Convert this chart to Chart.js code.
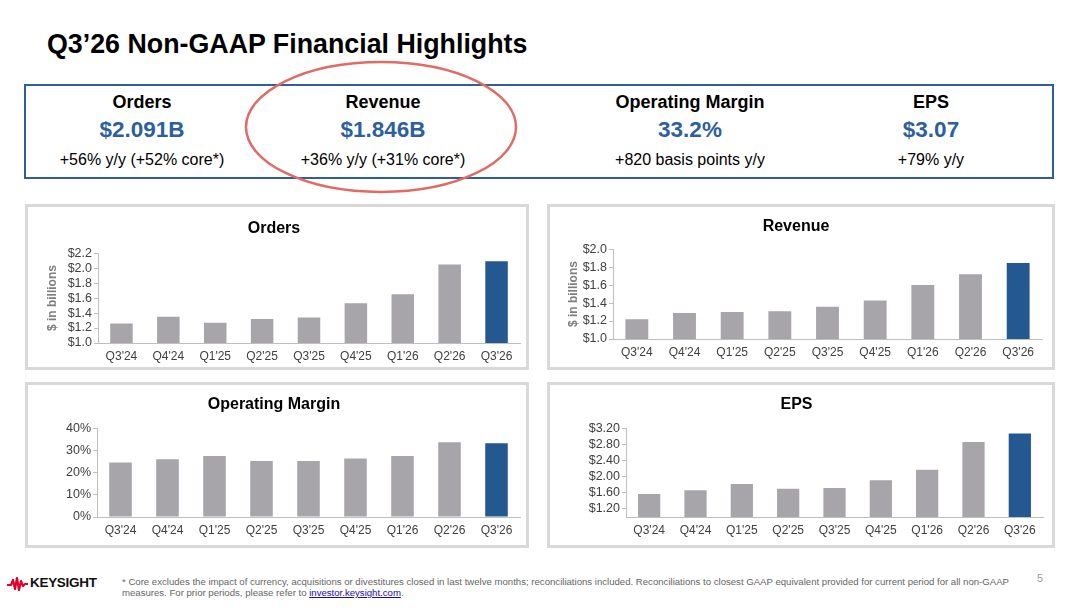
<!DOCTYPE html>
<html>
<head>
<meta charset="utf-8">
<script src="https://cdn.jsdelivr.net/npm/chart.js@4"></script>
<style>
  body { margin: 0; width: 1080px; height: 608px; background: #fff; position: relative; overflow: hidden;
         font-family: "Liberation Sans", Arial, sans-serif; }
  .abs { position: absolute; }
  .title { left: 47px; top: 29px; font-size: 26.8px; line-height: 31px; font-weight: bold; color: #000; white-space: nowrap; }
  .box { left: 24px; top: 84px; width: 1026px; height: 91px; border: 2px solid #2e5e9b; }
  .col { width: 280px; margin-left: -140px; text-align: center; white-space: nowrap; }
  .head { top: 92px; font-size: 18px; line-height: 21px; font-weight: bold; color: #000; }
  .val { top: 117px; font-size: 22.5px; line-height: 26px; font-weight: bold; color: #2d5f9e; }
  .sub { top: 150px; font-size: 16px; line-height: 19px; color: #000; }
  .panel { border: 3px solid #d9d9d9; box-sizing: border-box; }
  .panel div { position: relative; width: 100%; height: 100%; }
  .foot { left: 122px; top: 576px; font-size: 9.6px; line-height: 11px; color: #666; width: 940px; white-space: nowrap; }
  .foot a { color: #1a0dab; }
  .pnum { left: 1037px; top: 572px; font-size: 11px; color: #999; }
  .logo { left: 30px; top: 575px; font-size: 13.5px; font-weight: bold; color: #111; letter-spacing: -0.3px; }
</style>
</head>
<body>
<div class="abs title">Q3’26 Non-GAAP Financial Highlights</div>
<div class="abs box"></div>

<div class="abs col head" style="left:142px">Orders</div>
<div class="abs col val" style="left:142px">$2.091B</div>
<div class="abs col sub" style="left:142px">+56% y/y (+52% core*)</div>

<div class="abs col head" style="left:383px">Revenue</div>
<div class="abs col val" style="left:383px">$1.846B</div>
<div class="abs col sub" style="left:383px">+36% y/y (+31% core*)</div>

<div class="abs col head" style="left:690px">Operating Margin</div>
<div class="abs col val" style="left:690px">33.2%</div>
<div class="abs col sub" style="left:690px">+820 basis points y/y</div>

<div class="abs col head" style="left:931px">EPS</div>
<div class="abs col val" style="left:931px">$3.07</div>
<div class="abs col sub" style="left:931px">+79% y/y</div>

<svg class="abs" style="left:0;top:0" width="1080" height="220">
  <ellipse cx="381" cy="127" rx="135" ry="65" fill="none" stroke="#e06b63" stroke-width="2.5"/>
</svg>

<div class="abs panel" style="left:25px;top:204px;width:504px;height:166px"><div><canvas id="ordersChart"></canvas></div></div>
<div class="abs panel" style="left:547px;top:204px;width:508px;height:166px"><div><canvas id="revenueChart"></canvas></div></div>
<div class="abs panel" style="left:25px;top:382px;width:504px;height:166px"><div><canvas id="marginChart"></canvas></div></div>
<div class="abs panel" style="left:547px;top:382px;width:508px;height:166px"><div><canvas id="epsChart"></canvas></div></div>

<svg class="abs" style="left:7px;top:576px" width="22" height="16">
  <polyline points="0,9 4,9 6,4 8,13 10,2 12,14 14,5 16,10 18,8 21,8" fill="none" stroke="#e4002b" stroke-width="2.2" stroke-linejoin="round"/>
</svg>
<div class="abs logo">KEYSIGHT</div>
<div class="abs foot">* Core excludes the impact of currency, acquisitions or divestitures closed in last twelve months; reconciliations included. Reconciliations to closest GAAP equivalent provided for current period for all non-GAAP<br>measures. For prior periods, please refer to <a href="#">investor.keysight.com</a>.</div>
<div class="abs pnum">5</div>

<script>
const quarters = ["Q3'24", "Q4'24", "Q1'25", "Q2'25", "Q3'25", "Q4'25", "Q1'26", "Q2'26", "Q3'26"];
const ordersValues = [1.26, 1.35, 1.27, 1.32, 1.34, 1.53, 1.65, 2.05, 2.091];
const revenueValues = [1.22, 1.29, 1.30, 1.31, 1.36, 1.43, 1.60, 1.72, 1.846];
const marginValues = [24.5, 26.0, 27.5, 25.2, 25.2, 26.4, 27.5, 33.7, 33.2];
const epsValues = [1.57, 1.66, 1.82, 1.70, 1.72, 1.91, 2.17, 2.86, 3.07];
const epsTicks = [1.2, 1.6, 2.0, 2.4, 2.8, 3.2];

const gray = "#a7a5aa";
const blue = "#245891";
const axisGray = "#bfbfbf";

Chart.defaults.font.family = "'Liberation Sans', Arial, sans-serif";
Chart.defaults.color = "#404040";
Chart.defaults.animation = false;

// one bar chart per panel; layout numbers tuned to the slide
function makeBarChart(id, title, values, cfg) {
  const yScale = {
    min: cfg.min,
    max: cfg.max,
    border: { display: true, color: axisGray },
    grid: { drawOnChartArea: false, drawTicks: true, tickLength: 4, color: axisGray },
    ticks: {
      stepSize: cfg.step,
      autoSkip: false,
      padding: 2,
      font: { size: 12.5 },
      color: "#404040",
      callback: cfg.format,
    },
    afterFit: (s) => { s.width = cfg.yWidth; },
  };
  if (cfg.ticks) {
    yScale.afterBuildTicks = (s) => { s.ticks = cfg.ticks.map((v) => ({ value: v })); };
  }
  if (cfg.yTitle) {
    yScale.title = {
      display: true,
      text: cfg.yTitle,
      color: "#7f7f7f",
      font: { size: 12, weight: "bold" },
      padding: { top: cfg.yTitlePad, bottom: 0 },
    };
  }
  new Chart(document.getElementById(id), {
    type: "bar",
    data: {
      labels: quarters,
      datasets: [
        {
          data: values,
          backgroundColor: quarters.map((q, i) => (i === quarters.length - 1 ? blue : gray)),
          barPercentage: 0.48,
          categoryPercentage: 1,
        },
      ],
    },
    options: {
      responsive: true,
      maintainAspectRatio: false,
      layout: { padding: { left: 0, right: cfg.padRight, top: 0, bottom: 0 } },
      plugins: {
        legend: { display: false },
        tooltip: { enabled: false },
        title: {
          display: true,
          text: title,
          color: "#000",
          font: { size: 16, weight: "bold", lineHeight: 1.2 },
          padding: { top: cfg.titleTop, bottom: cfg.titleBottom },
        },
      },
      scales: {
        x: {
          border: { display: true, color: axisGray },
          grid: { display: false, drawTicks: false },
          ticks: { padding: 6, font: { size: 12 }, color: "#404040", maxRotation: 0, autoSkip: false },
          afterFit: (s) => { s.height = cfg.xHeight; },
        },
        y: yScale,
      },
    },
  });
}

makeBarChart("ordersChart", "Orders", ordersValues, {
  min: 1.0, max: 2.2, step: 0.2,
  format: (v) => "$" + v.toFixed(1),
  yWidth: 70, padRight: 6, titleTop: 12, titleBottom: 15, xHeight: 24,
  yTitle: "$ in billions", yTitlePad: 17,
});

makeBarChart("revenueChart", "Revenue", revenueValues, {
  min: 1.0, max: 2.0, step: 0.2,
  format: (v) => "$" + v.toFixed(1),
  yWidth: 63, padRight: 10, titleTop: 10, titleBottom: 13, xHeight: 28,
  yTitle: "$ in billions", yTitlePad: 16,
});

makeBarChart("marginChart", "Operating Margin", marginValues, {
  min: 0, max: 40, step: 10,
  format: (v) => v + "%",
  yWidth: 69, padRight: 6, titleTop: 10, titleBottom: 14, xHeight: 28,
});

makeBarChart("epsChart", "EPS", epsValues, {
  min: 1.0, max: 3.2, ticks: epsTicks,
  format: (v) => "$" + v.toFixed(2),
  yWidth: 76, padRight: 9, titleTop: 10, titleBottom: 14, xHeight: 28,
});
</script>
</body>
</html>
